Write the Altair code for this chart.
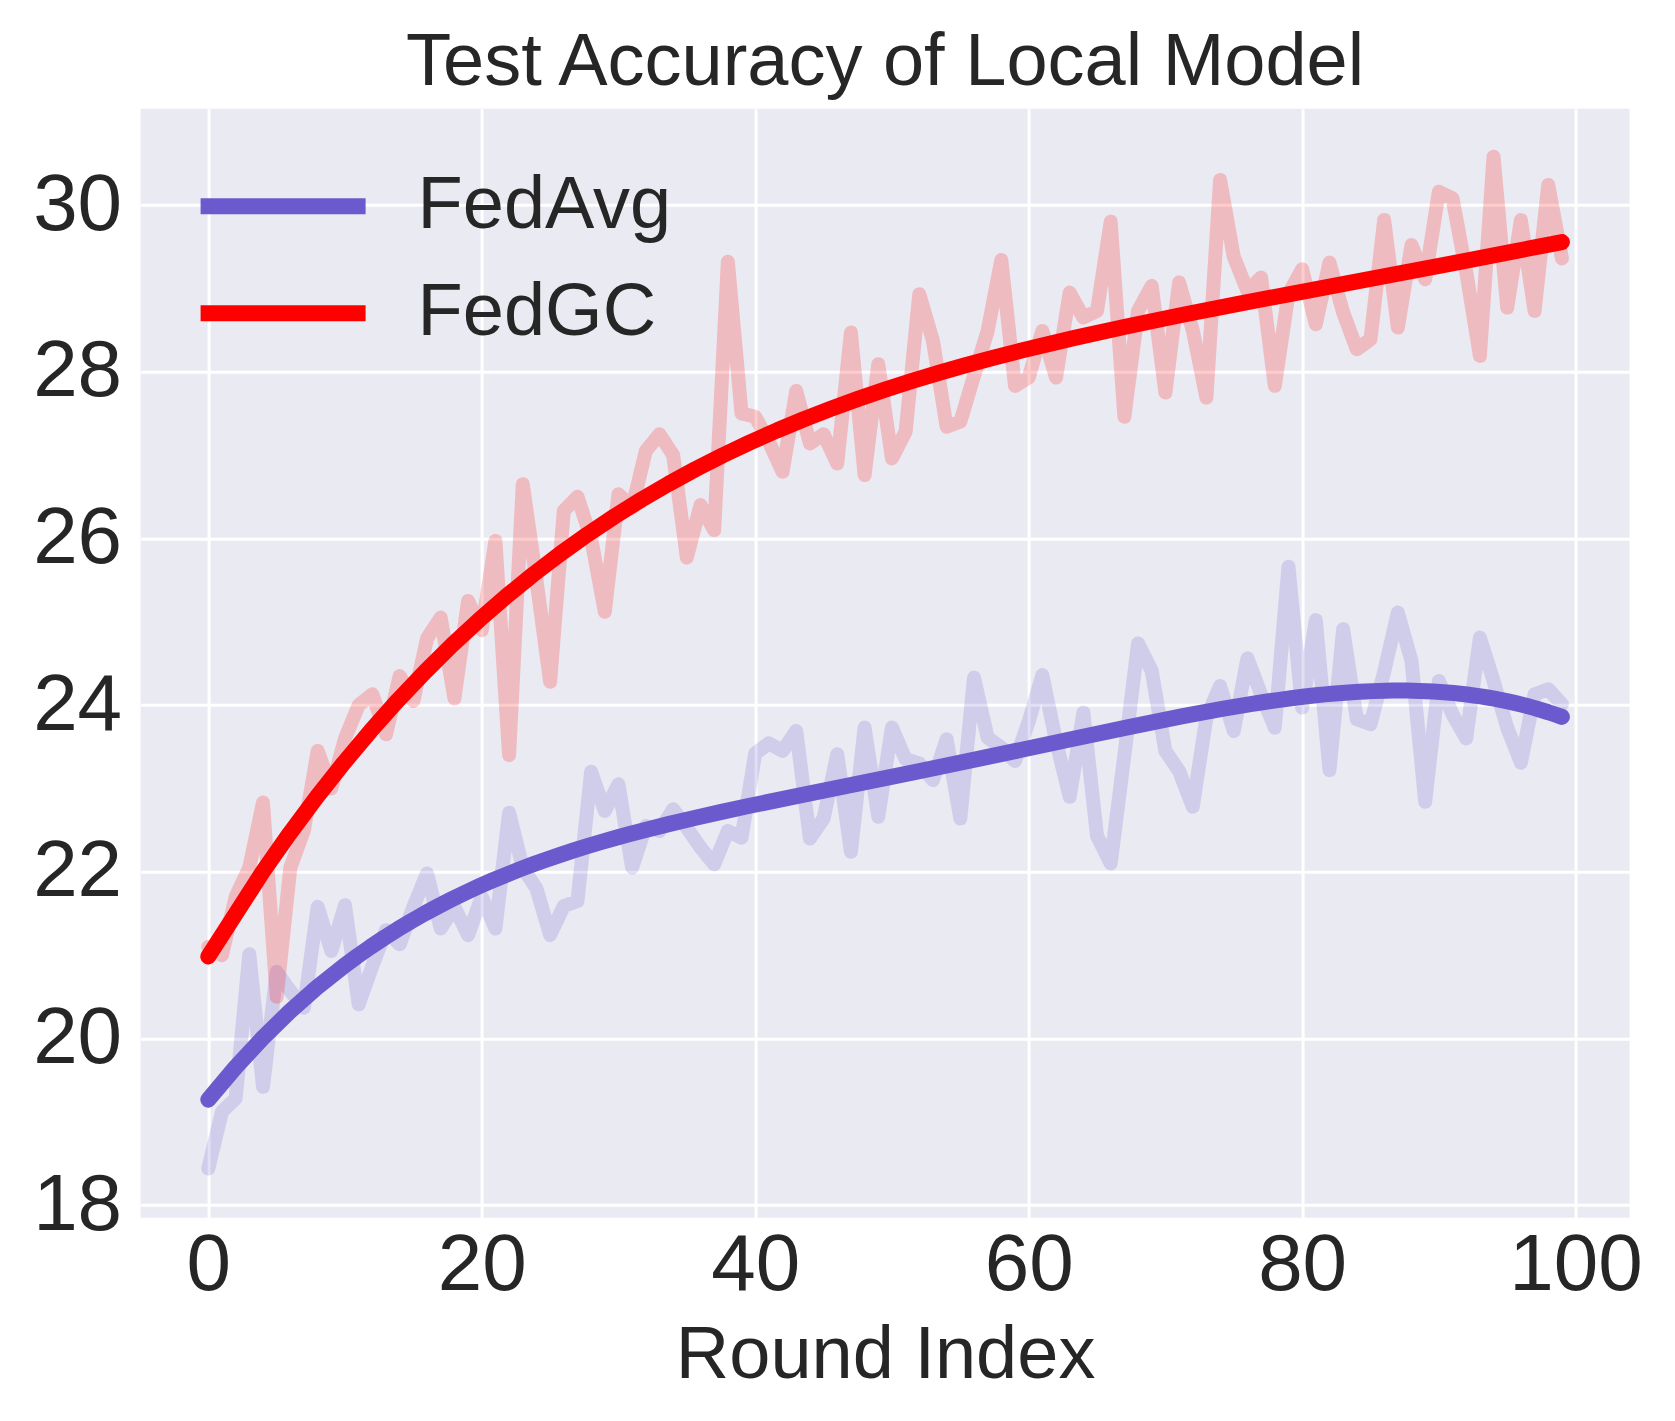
import altair as alt
import pandas as pd

rounds = list(range(100))

fedavg = [
    18.44, 19.12, 19.28, 21.01, 19.42, 20.80, 20.57, 20.37, 21.58, 21.05,
    21.60, 20.41, 20.87, 21.30, 21.13, 21.58, 21.98, 21.32, 21.58, 21.24,
    21.70, 21.32, 22.71, 22.05, 21.80, 21.24, 21.59, 21.65, 23.20, 22.73,
    23.05, 22.05, 22.55, 22.49, 22.75, 22.53, 22.29, 22.09, 22.49, 22.41,
    23.42, 23.54, 23.45, 23.69, 22.40, 22.64, 23.41, 22.24, 23.73, 22.66,
    23.73, 23.35, 23.30, 23.10, 23.59, 22.64, 24.33, 23.61, 23.49, 23.33,
    23.80, 24.36, 23.57, 22.90, 23.91, 22.43, 22.10, 23.40, 24.74, 24.41,
    23.45, 23.21, 22.78, 23.85, 24.23, 23.69, 24.56, 24.13, 23.73, 25.66,
    23.97, 25.02, 23.22, 24.91, 23.83, 23.77, 24.40, 25.11, 24.53, 22.84,
    24.29, 23.89, 23.60, 24.81, 24.29, 23.73, 23.31, 24.13, 24.19, 24.01,
]

fedgc = [
    21.10, 21.00, 21.70, 22.05, 22.83, 20.50, 22.05, 22.50, 23.45, 23.00,
    23.60, 24.00, 24.13, 23.65, 24.35, 24.05, 24.80, 25.05, 24.08, 25.25,
    24.90, 25.97, 23.40, 26.65, 25.50, 24.28, 26.33, 26.50, 26.00, 25.12,
    26.53, 26.37, 27.05, 27.25, 27.00, 25.77, 26.40, 26.10, 29.32, 27.50,
    27.46, 27.16, 26.80, 27.77, 27.14, 27.25, 26.90, 28.47, 26.76, 28.09,
    26.96, 27.28, 28.93, 28.37, 27.34, 27.40, 27.95, 28.49, 29.34, 27.83,
    27.93, 28.49, 27.93, 28.95, 28.65, 28.73, 29.80, 27.46, 28.73, 29.03,
    27.75, 29.07, 28.50, 27.69, 30.30, 29.38, 28.97, 29.13, 27.83, 28.93,
    29.23, 28.57, 29.31, 28.71, 28.27, 28.39, 29.82, 28.53, 29.52, 29.11,
    30.16, 30.08, 29.20, 28.19, 30.58, 28.77, 29.82, 28.73, 30.24, 29.36,
]

methods = ["FedAvg", "FedGC"]
colors = ["#6a5acd", "#ff0000"]
x_ticks = [0, 20, 40, 60, 80, 100]
y_ticks = [18, 20, 22, 24, 26, 28, 30]

df = pd.DataFrame({
    "round": rounds + rounds,
    "acc": fedavg + fedgc,
    "method": [methods[0]] * len(fedavg) + [methods[1]] * len(fedgc),
})

FONT = "Liberation Sans"
TXT = "#262626"

x = alt.X(
    "round:Q",
    scale=alt.Scale(domain=[-4.95, 103.95], nice=False, zero=False),
    axis=alt.Axis(values=x_ticks, title="Round Index", labelPadding=9,
                  titlePadding=14, format="d"),
)
y = alt.Y(
    "acc:Q",
    scale=alt.Scale(domain=[17.85, 31.156], nice=False, zero=False),
    axis=alt.Axis(values=y_ticks, title=None, labelPadding=19, labelOffset=0,
                  format="d"),
)
color_scale = alt.Scale(domain=methods, range=colors)

legend = alt.Legend(
    title=None, orient="none", legendX=93, legendY=48,
    symbolType="M-2,0L2,0", symbolSize=6806, symbolStrokeWidth=16,
    symbolOpacity=1, labelFont=FONT, labelFontSize=74, labelLimit=0,
    labelColor=TXT, labelOffset=85, rowPadding=20, padding=0,
)

raw = alt.Chart(df).mark_line(
    strokeWidth=14, opacity=0.2, strokeCap="round", strokeJoin="round"
).encode(
    x=x, y=y,
    color=alt.Color("method:N", scale=color_scale, legend=legend),
)

trend = alt.Chart(df).transform_regression(
    "round", "acc", groupby=["method"], method="poly", order=4
).mark_line(
    strokeWidth=16, strokeCap="round", strokeJoin="round"
).encode(
    x=x, y=y,
    color=alt.Color("method:N", scale=color_scale, legend=legend),
)

chart = alt.layer(raw, trend).properties(
    width=1489,
    height=1109,
    background="#ffffff",
    autosize=alt.AutoSizeParams(type="none"),
    padding={"left": 132.6, "top": 100.7, "right": 30, "bottom": 196},
    title=alt.TitleParams(
        "Test Accuracy of Local Model", fontSize=74, font=FONT, color=TXT,
        fontWeight="normal", baseline="alphabetic", offset=-50,
        frame="group", anchor="middle",
    ),
).configure_view(
    fill="#EAEAF2", stroke=None, strokeWidth=0,
).configure_axis(
    grid=True, gridColor="#ffffff", gridWidth=3, gridOpacity=1,
    domain=False, ticks=False,
    labelFont=FONT, labelFontSize=80, labelColor=TXT,
    titleFont=FONT, titleFontSize=74, titleColor=TXT, titleFontWeight="normal",
)

chart.save("out.html", embed_options={"renderer": "svg", "actions": False})
